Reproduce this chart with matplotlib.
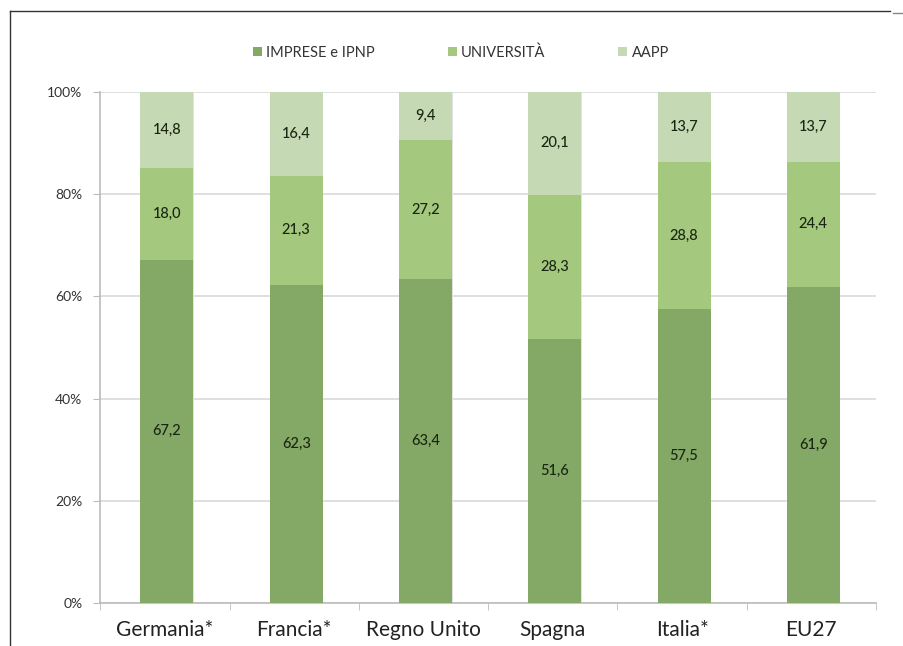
import matplotlib.pyplot as plt
import matplotlib.lines as mlines
import numpy as np

plt.rcParams['font.family'] = ['Lato', 'DejaVu Sans']

paesi = ["Germania*", "Francia*", "Regno Unito", "Spagna", "Italia*", "EU27"]
imprese = [67.2, 62.3, 63.4, 51.6, 57.5, 61.9]
universita = [18.0, 21.3, 27.2, 28.3, 28.8, 24.4]
aapp = [14.8, 16.4, 9.4, 20.1, 13.7, 13.7]

serie = [("IMPRESE e IPNP", imprese, "#84a865"),
         ("UNIVERSITÀ", universita, "#a4c87d"),
         ("AAPP", aapp, "#c6d9b5")]

fig = plt.figure(figsize=(9.04, 6.46), dpi=100)
ax = fig.add_axes([0.111, 0.0666, 0.858, 0.791])

x = np.arange(len(paesi))
bottom = np.zeros(len(paesi))
for nome, valori, colore in serie:
    valori = np.array(valori)
    # ombra leggera a destra della barra
    ax.bar(x + 0.02, valori, 0.41, bottom=bottom, color="#e2e2e2", zorder=2)
    ax.bar(x + 0.015, valori, 0.41, bottom=bottom, color=colore, label=nome, zorder=3)
    for xi, b, v in zip(x, bottom, valori):
        ax.text(xi + 0.015, b + v / 2, ("%.1f" % v).replace(".", ","), ha="center", va="center",
                fontsize=10.5, color="#1a2612", fontweight="medium", zorder=4)
    bottom += valori

ax.set_xlim(-0.5, len(paesi) - 0.5)
ax.set_ylim(0, 100)
ax.set_yticks(np.arange(0, 101, 20))
ax.set_yticklabels(["%d%%" % v for v in range(0, 101, 20)], fontsize=10, color="#333333")
ax.set_xticks(x)
ax.set_xticklabels(paesi, fontsize=15, color="#222222")
ax.set_xticks(np.arange(-0.5, len(paesi)), minor=True)
ax.tick_params(axis="x", which="major", length=0, pad=12)
ax.tick_params(axis="x", which="minor", length=5, color="#bbbbbb")
ax.tick_params(axis="y", length=5, color="#bbbbbb", pad=8)
ax.yaxis.grid(True, color="#d9d9d9", linewidth=1.2, zorder=0)
ax.set_axisbelow(True)
for s in ["top", "right"]:
    ax.spines[s].set_visible(False)
for s in ["left", "bottom"]:
    ax.spines[s].set_color("#bbbbbb")
    ax.spines[s].set_linewidth(1.2)

handles, labels = ax.get_legend_handles_labels()
fig.legend(handles, labels, loc="center", bbox_to_anchor=(0.51, 0.919), ncol=3,
           frameon=False, fontsize=10.5, handlelength=0.6, handleheight=0.6,
           columnspacing=5.0, handletextpad=0.3, labelcolor="#333333")

# cornice
fig.add_artist(mlines.Line2D([10 / 904, 10 / 904], [0, 1 - 11 / 646],
                             transform=fig.transFigure, color="#333333", linewidth=1))
fig.add_artist(mlines.Line2D([10 / 904, 890 / 904], [1 - 11 / 646, 1 - 11 / 646],
                             transform=fig.transFigure, color="#333333", linewidth=1))
fig.add_artist(mlines.Line2D([893 / 904, 1], [1 - 13 / 646, 1 - 13 / 646],
                             transform=fig.transFigure, color="#888888", linewidth=1))

fig.savefig("out.png", dpi=100)
